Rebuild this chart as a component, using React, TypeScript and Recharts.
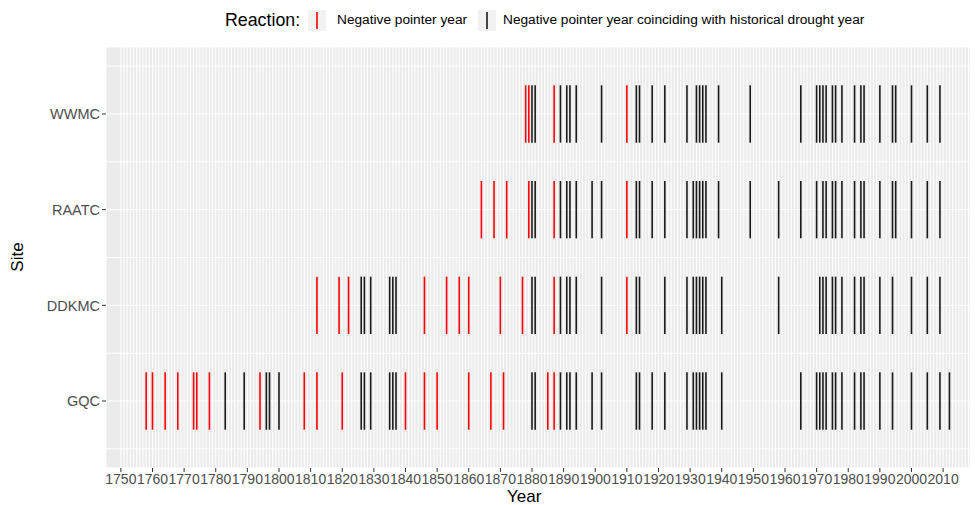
import React from "react";
import { ScatterChart, Scatter, XAxis, YAxis, CartesianGrid, ErrorBar } from "recharts";

const siteLabels = ["GQC", "DDKMC", "RAATC", "WWMC"];
const decadeLabels = [
  1750, 1760, 1770, 1780, 1790, 1800, 1810, 1820, 1830, 1840, 1850, 1860, 1870, 1880,
  1890, 1900, 1910, 1920, 1930, 1940, 1950, 1960, 1970, 1980, 1990, 2000, 2010,
];

// Negative pointer years (red) and those coinciding with historical drought years (black)
const gqcPointer = [1758, 1760, 1764, 1768, 1773, 1774, 1778, 1794, 1808, 1812, 1820, 1840, 1846, 1850, 1860, 1867, 1871, 1885, 1887];
const gqcDrought = [
  1783, 1789, 1796, 1797, 1800, 1826, 1827, 1829, 1835, 1836, 1837, 1880, 1881, 1889, 1891, 1892, 1894,
  1899, 1902, 1913, 1914, 1918, 1922, 1929, 1931, 1932, 1933, 1934, 1935, 1940, 1965, 1970, 1971, 1972,
  1973, 1975, 1976, 1978, 1982, 1984, 1985, 1990, 1994, 2000, 2005, 2009, 2012,
];
const ddkmcPointer = [1812, 1819, 1822, 1846, 1853, 1857, 1860, 1870, 1877, 1887, 1910];
const ddkmcDrought = [
  1826, 1827, 1829, 1835, 1836, 1837, 1880, 1881, 1889, 1891, 1892, 1894, 1902, 1913, 1914, 1922, 1929,
  1931, 1932, 1933, 1934, 1935, 1940, 1958, 1971, 1972, 1973, 1975, 1976, 1978, 1982, 1984, 1985, 1990,
  1994, 2000, 2005, 2009,
];
const raatcPointer = [1864, 1868, 1872, 1879, 1887, 1910];
const raatcDrought = [
  1880, 1881, 1889, 1891, 1892, 1894, 1899, 1902, 1913, 1914, 1918, 1922, 1929, 1931, 1932, 1933, 1934,
  1935, 1939, 1949, 1958, 1965, 1970, 1972, 1973, 1975, 1976, 1978, 1982, 1984, 1985, 1990, 1994, 1995,
  2000, 2005, 2009,
];
const wwmcPointer = [1878, 1879, 1887, 1910];
const wwmcDrought = [
  1880, 1881, 1889, 1891, 1892, 1894, 1902, 1913, 1914, 1918, 1922, 1929, 1932, 1933, 1934, 1935, 1939,
  1949, 1965, 1970, 1971, 1972, 1973, 1975, 1976, 1978, 1982, 1984, 1985, 1990, 1994, 1995, 2000, 2005,
  2009,
];

const SEG_HALF = 0.3;
const gridYears: number[] = [];
for (let y = 1750; y <= 2018; y++) gridYears.push(y);
const siteTicks = [0.5, 1, 1.5, 2, 2.5, 3, 3.5, 4, 4.5];

const rowsFrom = (years: number[], site: number) => years.map((year) => ({ year, site, half: SEG_HALF }));
const pointerData = [
  ...rowsFrom(gqcPointer, 1),
  ...rowsFrom(ddkmcPointer, 2),
  ...rowsFrom(raatcPointer, 3),
  ...rowsFrom(wwmcPointer, 4),
];
const droughtData = [
  ...rowsFrom(gqcDrought, 1),
  ...rowsFrom(ddkmcDrought, 2),
  ...rowsFrom(raatcDrought, 3),
  ...rowsFrom(wwmcDrought, 4),
];

const FONT = '"Liberation Sans", Arial, Helvetica, sans-serif';
const RED = "#FF0000";
const BLACK = "#1A1A1A";

const XTick = (props: any) => {
  const { x, y, payload } = props;
  if (!decadeLabels.includes(payload.value)) return <g />;
  return (
    <g>
      <line x1={x} x2={x} y1={y} y2={y + 4} stroke="#333333" strokeWidth={1} />
      <text x={x} y={y + 16} textAnchor="middle" fontSize={14} fill="#4D4D4D" fontFamily={FONT}>
        {payload.value}
      </text>
    </g>
  );
};

const YTick = (props: any) => {
  const { x, y, payload } = props;
  const v = payload.value;
  if (!Number.isInteger(v)) return <g />;
  return (
    <g>
      <line x1={x - 4} x2={x} y1={y} y2={y} stroke="#333333" strokeWidth={1} />
      <text x={x - 6} y={y} dy="0.36em" textAnchor="end" fontSize={14.5} fill="#4D4D4D" fontFamily={FONT}>
        {siteLabels[v - 1]}
      </text>
    </g>
  );
};

const noMark = () => <g />;

export default function App() {
  return (
    <div style={{ position: "absolute", left: 0, top: 0, width: 975, height: 505, background: "#fff", fontFamily: FONT }}>
      <ScatterChart width={975} height={505} margin={{ top: 47, right: 5, bottom: 0, left: 0 }}>
        <CartesianGrid stroke="#FFFFFF" strokeWidth={1} fill="#EBEBEB" fillOpacity={1} />
        <XAxis
          type="number"
          dataKey="year"
          domain={[1745.3, 2018.5]}
          ticks={gridYears}
          interval={0}
          allowDataOverflow
          axisLine={false}
          tickLine={false}
          tickSize={0}
          tickMargin={0}
          height={37}
          tick={<XTick />}
        />
        <YAxis
          type="number"
          dataKey="site"
          domain={[0.3, 4.7]}
          ticks={siteTicks}
          interval={0}
          allowDataOverflow
          axisLine={false}
          tickLine={false}
          tickSize={0}
          tickMargin={0}
          width={106}
          tick={<YTick />}
        />
        <Scatter data={pointerData} dataKey="site" shape={noMark} isAnimationActive={false}>
          <ErrorBar dataKey="half" direction="y" width={0} stroke={RED} strokeWidth={1.6} />
        </Scatter>
        <Scatter data={droughtData} dataKey="site" shape={noMark} isAnimationActive={false}>
          <ErrorBar dataKey="half" direction="y" width={0} stroke={BLACK} strokeWidth={1.6} />
        </Scatter>
      </ScatterChart>

      {/* axis titles */}
      <div style={{ position: "absolute", left: 507, top: 488, fontSize: 17, color: "#000", lineHeight: "17px", whiteSpace: "nowrap" }}>
        Year
      </div>
      <div style={{ position: "absolute", left: 18, top: 257, fontSize: 17, color: "#000", lineHeight: "20px", transform: "translate(-50%, -50%) rotate(-90deg)", whiteSpace: "nowrap" }}>
        Site
      </div>

      {/* legend */}
      <div style={{ position: "absolute", left: 225, top: 10, fontSize: 17.8, lineHeight: "20px", color: "#000", whiteSpace: "nowrap" }}>Reaction:</div>
      <svg style={{ position: "absolute", left: 308, top: 10 }} width={18} height={21}>
        <rect x={0} y={0} width={18} height={21} fill="#F2F2F2" />
        <line x1={9} x2={9} y1={2} y2={19} stroke={RED} strokeWidth={1.6} />
      </svg>
      <div style={{ position: "absolute", left: 337, top: 12, fontSize: 13.7, lineHeight: "16px", color: "#000", whiteSpace: "nowrap" }}>Negative pointer year</div>
      <svg style={{ position: "absolute", left: 478, top: 10 }} width={18} height={21}>
        <rect x={0} y={0} width={18} height={21} fill="#F2F2F2" />
        <line x1={9} x2={9} y1={2} y2={19} stroke={BLACK} strokeWidth={1.6} />
      </svg>
      <div style={{ position: "absolute", left: 503, top: 12, fontSize: 13.7, lineHeight: "16px", color: "#000", whiteSpace: "nowrap" }}>
        Negative pointer year coinciding with historical drought year
      </div>
    </div>
  );
}
